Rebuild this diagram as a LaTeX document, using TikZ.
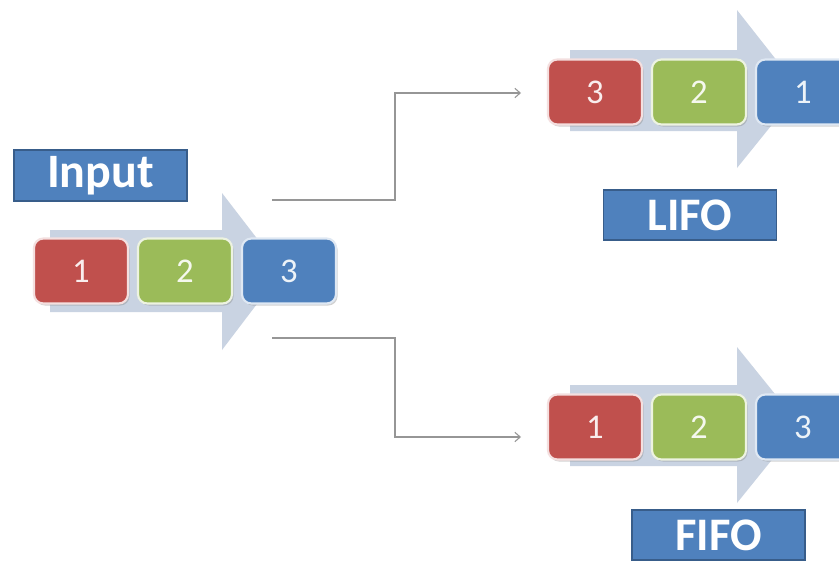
\documentclass[tikz,border=0pt]{standalone}
\usepackage{fontspec}
\setmainfont{Carlito}
\usetikzlibrary{shadows,arrows.meta}
\definecolor{qred}{HTML}{C0504D}
\definecolor{qgreen}{HTML}{9BBB59}
\definecolor{qblue}{HTML}{4F81BD}
\definecolor{qborder}{HTML}{385D8A}
\definecolor{qarrow}{RGB}{201,211,226}
\definecolor{qline}{RGB}{150,150,150}
\tikzset{
  item/.style={fill=#1, draw=#1!18!white, text=#1!10!white, rounded corners=7pt,
    minimum width=70.5pt, minimum height=48.75pt, line width=1.6pt, inner sep=0pt,
    font=\fontsize{26}{28}\selectfont,
    drop shadow={opacity=0.35, shadow xshift=1.2pt, shadow yshift=-1.5pt}},
  tag/.style={fill=qblue, draw=qborder, line width=1pt, text=white, inner sep=0pt,
    minimum width=129.75pt, minimum height=37.5pt,
    font=\bfseries\fontsize{35}{37}\selectfont},
  conn/.style={draw=qline, line width=0.8pt, -{Straight Barb[length=4pt,width=7pt]}},
  bigarrow/.style={fill=qarrow, draw=none}
}
\begin{document}
\begin{tikzpicture}[x=0.75pt,y=-0.75pt]
\useasboundingbox (0,0) rectangle (839,564);
\clip (0,0) rectangle (839,564);
\fill[white] (0,0) rectangle (839,564);
% background arrows
\path[bigarrow] (50,230) -- (222,230) -- (222,193) -- (282,271) -- (222,350) -- (222,312) -- (50,312) -- cycle;
\path[bigarrow] (570,50) -- (737,50) -- (737,10) -- (800,90) -- (737,168) -- (737,131) -- (570,131) -- cycle;
\path[bigarrow] (570,385) -- (737,385) -- (737,347) -- (800,425) -- (737,503) -- (737,466) -- (570,466) -- cycle;
% input
\node[tag, font=\bfseries\fontsize{36}{38}\selectfont, minimum height=38.25pt] (input) at (100.5,175.5) {Input};
\node[item=qred]   (i1) at (81,271)  {1};
\node[item=qgreen] (i2) at (185,271) {2};
\node[item=qblue]  (i3) at (289,271) {3};
% LIFO
\node[item=qred]   (l3) at (595,92)  {3};
\node[item=qgreen] (l2) at (699,92)  {2};
\node[item=qblue]  (l1) at (803,92)  {1};
\node[tag] (lifo) at (690,215) {LIFO};
% FIFO
\node[item=qred]   (f1) at (595,427) {1};
\node[item=qgreen] (f2) at (699,427) {2};
\node[item=qblue]  (f3) at (803,427) {3};
\node[tag] (fifo) at (718.5,535) {FIFO};
% connectors
\coordinate (outTop) at (272,200);
\coordinate (outBot) at (272,338);
\coordinate (inLifo) at (521,93);
\coordinate (inFifo) at (521,437);
\draw[conn] (outTop) -- (395,200) -- (395,93) -- (inLifo);
\draw[conn] (outBot) -- (395,338) -- (395,437) -- (inFifo);
\end{tikzpicture}
\end{document}
